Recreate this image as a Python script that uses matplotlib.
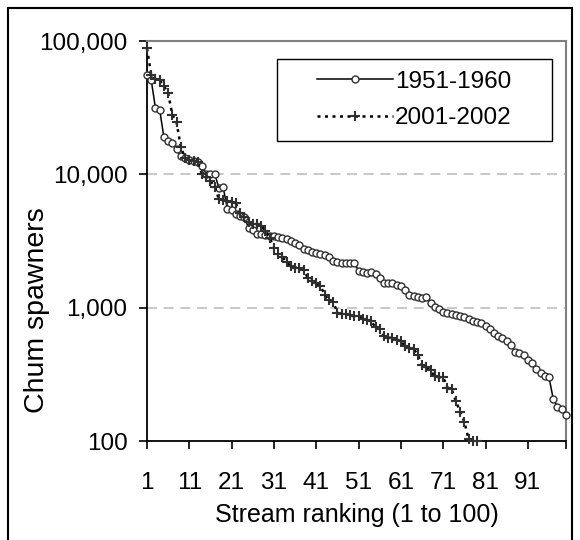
import matplotlib
matplotlib.use("Agg")
from matplotlib import pyplot as plt
from matplotlib.patches import Rectangle
import numpy as np

plt.rcParams['font.family'] = ['Liberation Sans', 'DejaVu Sans']

# chum spawners per stream, ranked
spawners_1951 = [56000, 51000, 31500, 30500, 19000, 17800, 17200, 15500, 13650, 13300,
                 12900, 12600, 12300, 11500, 10000, 10000, 10100, 7900, 8000, 5500,
                 5450, 5050, 4900, 4800, 3950, 3800, 3580, 3540, 3520, 3460,
                 3440, 3380, 3340, 3260, 3140, 3050, 2930, 2760, 2710, 2610,
                 2580, 2520, 2480, 2400, 2250, 2200, 2170, 2170, 2160, 2170,
                 1890, 1860, 1820, 1840, 1790, 1680, 1540, 1530, 1540, 1490,
                 1450, 1350, 1250, 1230, 1200, 1180, 1200, 1090, 1015, 970,
                 930, 913, 890, 880, 870, 850, 825, 800, 777, 764,
                 732, 690, 650, 613, 595, 560, 528, 463, 455, 442,
                 404, 388, 344, 322, 309, 300, 206, 181, 173, 156]

spawners_2001 = [88000, 56000, 52000, 51000, 46000, 40500, 28000, 24500, 16000, 13250,
                 12900, 12600, 12300, 10000, 9600, 8900, 8100, 6500, 6400, 6300,
                 6200, 6050, 5150, 4750, 4400, 4280, 4230, 4100, 3750, 3340,
                 2790, 2510, 2390, 2200, 2040, 2000, 1980, 1920, 1680, 1590,
                 1520, 1450, 1250, 1140, 1110, 913, 902, 900, 875, 860,
                 860, 825, 810, 791, 711, 690, 613, 595, 595, 577,
                 560, 513, 498, 492, 442, 370, 359, 338, 306, 300,
                 300, 251, 244, 198, 166, 139, 103, 100, 100]

series_names = ['1951-1960', '2001-2002']
x_ticks = list(range(1, 101, 10))
y_ticks = [100, 1000, 10000, 100000]
y_ticklabels = ['100', '1,000', '10,000', '100,000']

rank_1951 = np.arange(1, len(spawners_1951) + 1)
rank_2001 = np.arange(1, len(spawners_2001) + 1)

fig = plt.figure(figsize=(5.8, 5.4), dpi=100)
ax = fig.add_axes([0.2534, 0.1833, 0.7224, 0.7407])

ax.plot(rank_1951, spawners_1951, '-', color='black', lw=1.1,
        marker='o', ms=5.0, mfc='white', mec='#303030', mew=1.0,
        label=series_names[0], zorder=3, clip_on=False)
ax.plot(rank_2001, spawners_2001, linestyle=(0, (1.2, 1.8)), color='black', lw=1.8,
        marker='+', ms=7, mec='#303030', mew=1.5,
        label=series_names[1], zorder=4, clip_on=False)

ax.set_yscale('log')
ax.set_ylim(100, 100000)
ax.set_xlim(1, 100)
ax.set_yticks(y_ticks)
ax.set_yticklabels(y_ticklabels)
ax.yaxis.set_minor_locator(matplotlib.ticker.NullLocator())
ax.set_xticks(x_ticks)
ax.set_xticks([100], minor=True)

for y in y_ticks[1:3]:
    ax.axhline(y, color='#bfbfbf', lw=1.2, linestyle=(0, (6, 4)), zorder=1)

ax.tick_params(axis='both', which='both', direction='out', length=6, width=1.2,
               labelsize=17.5, color='black')
ax.tick_params(axis='y', pad=8)
ax.tick_params(axis='x', pad=16)

for side in ['top', 'right']:
    ax.spines[side].set_color('#808080')
    ax.spines[side].set_linewidth(1.5)
for side in ['left', 'bottom']:
    ax.spines[side].set_color('black')
    ax.spines[side].set_linewidth(1.3)

ax.set_ylabel('Chum spawners', fontsize=20.5)
ax.yaxis.set_label_coords(-0.232, 0.3275)
ax.set_xlabel('Stream ranking (1 to 100)', fontsize=18)
ax.xaxis.set_label_coords(0.5, -0.154)

# legend box
ax.add_patch(Rectangle((0.31, 0.75), 0.657, 0.206, transform=ax.transAxes,
                       facecolor='white', edgecolor='black', lw=1.0, zorder=5))
leg = ax.legend(loc='center', bbox_to_anchor=(0.6385, 0.853), frameon=False,
                fontsize=17.5, handlelength=3.1, handletextpad=0.1,
                labelspacing=0.6)
leg.set_zorder(6)

# outer border of the figure
fig.patches.append(Rectangle((8 / 580, -0.05), 564 / 580, 1.05 - 8 / 540,
                             transform=fig.transFigure, fill=False,
                             edgecolor='black', lw=1.5))

fig.savefig('out.png', dpi=100)
